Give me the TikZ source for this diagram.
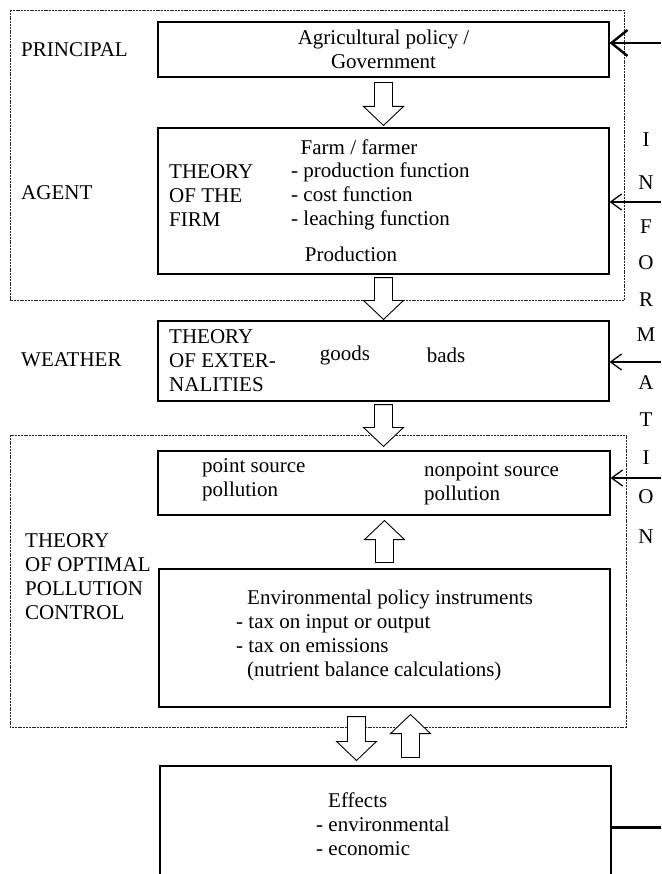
\documentclass[tikz,border=0pt]{standalone}
\usepackage{fontspec}
\setmainfont{Liberation Serif}
\usetikzlibrary{arrows.meta,calc}

% hollow block arrow from #1 (shaft end) to #2 (tip)
\newcommand{\hollowarrow}[2]{%
  \draw[fill=white,line width=0.9pt] let \p1=(#1), \p2=(#2) in
    ({\x1-9pt},\y1) -- ({\x1+9pt},\y1) -- ({\x1+9pt},{\y2-sign(\y2-\y1)*19pt})
    -- ({\x1+20pt},{\y2-sign(\y2-\y1)*19pt}) -- (\x1,\y2)
    -- ({\x1-20pt},{\y2-sign(\y2-\y1)*19pt}) -- ({\x1-9pt},{\y2-sign(\y2-\y1)*19pt}) -- cycle;}

\begin{document}
\begin{tikzpicture}[x=1pt,y=-1pt,font=\fontsize{21}{24}\selectfont,
  box/.style={draw,line width=1.1pt,minimum width=451pt,inner sep=0pt,align=center},
  group/.style={draw=black!85,line width=0.9pt,dash pattern=on 2pt off 0.8pt},
  lbl/.style={anchor=west,inner sep=0pt,align=left},
  info/.style={line width=1.3pt,-{Straight Barb[length=11pt,width=16pt]}}]
\useasboundingbox (0,0) rectangle (661,874);
\clip (0,0) rectangle (661,874);

% dotted frames
\draw[group] (10,10) rectangle (624,300);
\draw[group] (10,435) rectangle (626,727);

% boxes
\node[box,minimum height=55pt] (govt) at (383.5,49.5) {Agricultural policy /\\Government};
\node[box,minimum height=146pt] (farm) at (383.5,201) {};
\node[box,minimum height=80pt] (ext) at (383.5,361) {};
\node[box,minimum height=64pt,minimum width=452pt] (poll) at (384,483) {};
\node[box,minimum height=138pt,minimum width=451pt] (instr) at (384.5,638) {};
\node[box,minimum height=120pt] (effects) at (385.5,826) {};

% left labels
\node[lbl] (principal) at (21,50) {PRINCIPAL};
\node[lbl] (agent) at (21,193) {AGENT};
\node[lbl] (weather) at (21,360) {WEATHER};
\node[lbl] (optimal) at (25,577) {THEORY\\OF OPTIMAL\\POLLUTION\\CONTROL};

% box contents
\node (farmer) at (359,147) {Farm / farmer};
\node[lbl] (firm) at (169,196) {THEORY\\OF THE\\FIRM};
\node[lbl] (func) at (291,196) {- production function\\- cost function\\- leaching function};
\node (prod) at (351,254) {Production};
\node[lbl] (extern) at (169,361) {THEORY\\OF EXTER-\\NALITIES};
\node (goods) at (345,355) {goods};
\node (bads) at (446,355) {bads};
\node[lbl] (point) at (202,480) {point source\\pollution};
\node[lbl] (nonpoint) at (424,484) {nonpoint source\\pollution};
\node[lbl] (tools) at (236,635) {\hspace*{11pt}Environmental policy instruments\\- tax on input or output\\- tax on emissions\\\hspace*{11pt}(nutrient balance calculations)};
\node[lbl] (effect) at (316,824) {\hspace*{12pt}Effects\\- environmental\\- economic};

% block arrows
\hollowarrow{$(govt.south)+(0,5)$}{$(farm.north)+(0,-2)$}
\hollowarrow{$(farm.south)+(0,3)$}{$(ext.north)+(0,-1)$}
\hollowarrow{$(ext.south)+(0,3)$}{$(poll.north)+(0,-4)$}
\hollowarrow{$(instr.north)+(0,-6)$}{$(poll.south)+(0,5)$}
\hollowarrow{$(instr.south)+(-28,9)$}{$(effects.north)+(-28,-5)$}
\hollowarrow{$(effects.north)+(25,-8)$}{$(instr.south)+(25,7)$}

% information column
\foreach \ch/\yy [count=\i] in {I/140,N/183,F/227,O/263,R/300,M/335,A/383,T/420,I/458,O/497,N/537}
  \node[inner sep=0pt] (info\i) at (646,\yy) {\ch};

\coordinate (srcA) at (661,43);
\coordinate (srcB) at (661,202);
\coordinate (srcC) at (661,362);
\coordinate (srcD) at (661,478);
\coordinate (srcE) at (661,827);
\draw[line width=2.4pt,-{Straight Barb[length=16pt,width=26pt]}] (srcA) -- (srcA -| govt.east);
\draw[info] (srcB) -- (srcB -| farm.east);
\draw[info] (srcC) -- (srcC -| ext.east);
\draw[info] (srcD) -- (srcD -| poll.east);
\draw[line width=3pt] (srcE) -- (srcE -| effects.east);
\end{tikzpicture}
\end{document}
